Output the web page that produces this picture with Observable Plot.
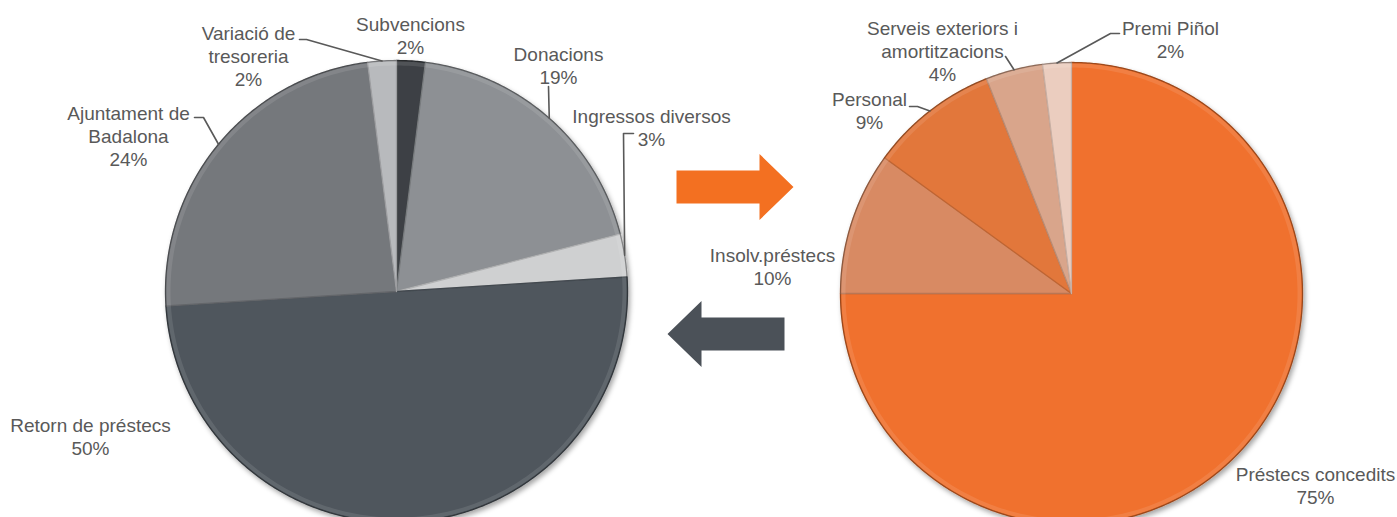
<!DOCTYPE html>
<html><head><meta charset="utf-8">
<script src="https://cdn.jsdelivr.net/npm/d3@7"></script>
<script src="https://cdn.jsdelivr.net/npm/@observablehq/plot@0.6"></script>
<style>html,body{margin:0;padding:0;background:#fff;overflow:hidden}</style>
</head><body><div id="chart"></div>
<script>
// ---- data ----
const leftLabels = ["Subvencions","Donacions","Ingressos diversos","Retorn de préstecs","Ajuntament de Badalona","Variació de tresoreria"];
const leftValues = [2,19,3,50,24,2];
const rightLabels = ["Préstecs concedits","Insolv.préstecs","Personal","Serveis exteriors i amortitzacions","Premi Piñol"];
const rightValues = [75,10,9,4,2];
// label text as displayed (line breaks)
const leftText = ["Subvencions","Donacions","Ingressos diversos","Retorn de préstecs","Ajuntament de\nBadalona","Variació de\ntresoreria"];
const rightText = ["Préstecs concedits","Insolv.préstecs","Personal","Serveis exteriors i\namortitzacions","Premi Piñol"];

// ---- styles ----
const leftColors = ["#3d4145","#8d9094","#cfd0d1","#4f565d","#75787c","#b8babd"];
const rightColors = ["#f0712e","#d88a63","#e2773b","#d9a58b","#ebcdbf"];
const textColor = "#595959";

// ---- layout ----
const W = 1397, H = 517;
const pies = [{cx: 396, cy: 291, r: 231}, {cx: 1071, cy: 293, r: 231}];
const leftLabelPos = [[410,34.5],[558,64.5],[651,126.5],[90,436],[128,135.5],[248,55.5]];
const rightLabelPos = [[1315,485],[772,266],[869,109.5],[942,50],[1170,38.5]];
const leftLeaders = [null, [[548,86]], [[633,133],[623,133]], null, [[194,117],[203,117]], [[299,39],[306,39]]];
const rightLeaders = [null, null, [[909,106],[917,106]], [[1005,56]], [[1119,33],[1110,33]]];
const arrows = [
  {x1: 676, x2: 793, y: 186.5, color: "#f37021"},
  {x1: 784, x2: 667, y: 333.5, color: "#4b5158"}
];

function slices(values, colors, pie, tag) {
  const arcs = d3.pie().sort(null).value(d => d)(values);
  const poly = [], mids = [];
  arcs.forEach((a, i) => {
    const key = tag + i;
    const color = colors[i];
    poly.push({key, color, x: pie.cx, y: pie.cy});
    const n = Math.max(2, Math.ceil((a.endAngle - a.startAngle) / (Math.PI / 360)));
    for (let k = 0; k <= n; k++) {
      const t = a.startAngle + (a.endAngle - a.startAngle) * k / n;
      poly.push({key, color, x: pie.cx + pie.r * Math.sin(t), y: pie.cy - pie.r * Math.cos(t)});
    }
    const m = (a.startAngle + a.endAngle) / 2;
    mids.push([pie.cx + pie.r * Math.sin(m), pie.cy - pie.r * Math.cos(m)]);
  });
  return {poly, mids};
}

function ring(pie, rr, tag) {
  const pts = [];
  for (let k = 0; k < 360; k++) {
    const t = k * Math.PI / 180;
    pts.push({key: tag, x: pie.cx + rr * Math.sin(t), y: pie.cy - rr * Math.cos(t)});
  }
  return pts;
}

const L = slices(leftValues, leftColors, pies[0], "L");
const R = slices(rightValues, rightColors, pies[1], "R");

const leaderPts = [];
[[leftLeaders, L.mids, "l"], [rightLeaders, R.mids, "r"]].forEach(([ls, mids, tag]) => {
  ls.forEach((el, i) => {
    if (!el) return;
    el.forEach(p => leaderPts.push({key: tag + i, x: p[0], y: p[1]}));
    leaderPts.push({key: tag + i, x: mids[i][0], y: mids[i][1]});
  });
});

const labels = [];
leftValues.forEach((v, i) => labels.push({x: leftLabelPos[i][0], y: leftLabelPos[i][1], text: leftText[i] + "\n" + v + "%"}));
rightValues.forEach((v, i) => labels.push({x: rightLabelPos[i][0], y: rightLabelPos[i][1], text: rightText[i] + "\n" + v + "%"}));

const arrowPts = [];
arrows.forEach((a, i) => {
  const dir = Math.sign(a.x2 - a.x1), head = 34, sh = 16.5, hh = 33;
  const xb = a.x2 - dir * head;
  [[a.x1, a.y - sh], [xb, a.y - sh], [xb, a.y - hh], [a.x2, a.y], [xb, a.y + hh], [xb, a.y + sh], [a.x1, a.y + sh]]
    .forEach(p => arrowPts.push({key: "a" + i, color: a.color, x: p[0], y: p[1]}));
});

const darker = c => d3.color(c).darker(0.45).formatHex();

const chart = Plot.plot({
  width: W, height: H, margin: 0,
  x: {domain: [0, W], range: [0, W], axis: null},
  y: {domain: [0, H], range: [0, H], axis: null},
  color: {type: "identity"},
  style: {background: "#fff", fontFamily: "'Liberation Sans', Arial, sans-serif"},
  marks: [
    Plot.line(L.poly, {x: "x", y: "y", z: "key", fill: "color", stroke: d => darker(d.color), strokeWidth: 1.3, curve: "linear-closed", strokeLinejoin: "round"}),
    Plot.line(R.poly, {x: "x", y: "y", z: "key", fill: "color", stroke: d => darker(d.color), strokeWidth: 1.3, curve: "linear-closed", strokeLinejoin: "round"}),
    Plot.line(ring(pies[0], pies[0].r - 3, "iL").concat(ring(pies[1], pies[1].r - 3, "iR")), {x: "x", y: "y", z: "key", stroke: "#fff", strokeOpacity: 0.1, strokeWidth: 4, curve: "linear-closed"}),
    Plot.line(ring(pies[0], pies[0].r, "oL").concat(ring(pies[1], pies[1].r, "oR")), {x: "x", y: "y", z: "key", stroke: "#000", strokeOpacity: 0.25, strokeWidth: 1.2, curve: "linear-closed"}),
    Plot.line(arrowPts, {x: "x", y: "y", z: "key", fill: "color", stroke: "none", curve: "linear-closed"}),
    Plot.line(leaderPts, {x: "x", y: "y", z: "key", stroke: textColor, strokeWidth: 1.6}),
    Plot.text(labels, {x: "x", y: "y", text: "text", fill: textColor, fontSize: 19, lineHeight: 1.21, lineAnchor: "middle", textAnchor: "middle"})
  ]
});

document.getElementById("chart").appendChild(chart);

// drop shadow on pies
const svg = d3.select(chart);
const defs = svg.insert("defs", ":first-child");
const f = defs.append("filter").attr("id", "pieShadow").attr("x", "-10%").attr("y", "-10%").attr("width", "120%").attr("height", "120%");
f.append("feDropShadow").attr("dx", 2).attr("dy", 3).attr("stdDeviation", 2.5).attr("flood-color", "#000").attr("flood-opacity", 0.35);
const lineGroups = chart.querySelectorAll('g[aria-label="line"]');
lineGroups[0].setAttribute("filter", "url(#pieShadow)");
lineGroups[1].setAttribute("filter", "url(#pieShadow)");
</script>
</body></html>
